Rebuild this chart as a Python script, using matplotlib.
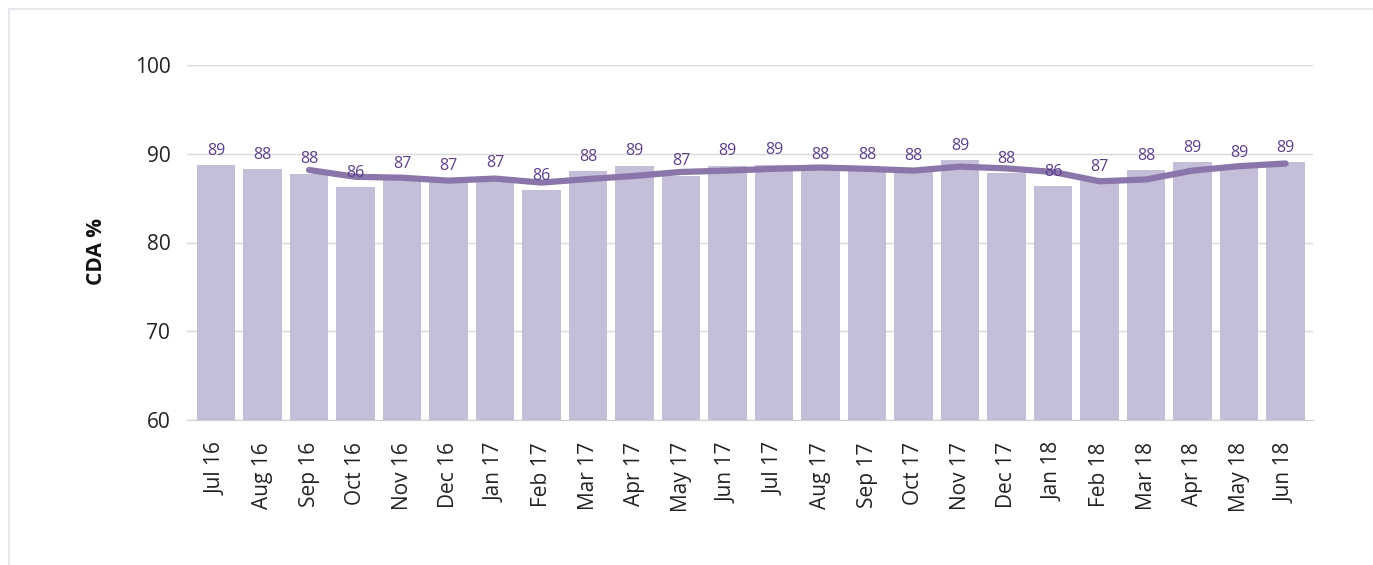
import matplotlib
matplotlib.use("Agg")
import matplotlib.pyplot as plt
from matplotlib.patches import Rectangle

months = ["Jul 16", "Aug 16", "Sep 16", "Oct 16", "Nov 16", "Dec 16", "Jan 17", "Feb 17",
          "Mar 17", "Apr 17", "May 17", "Jun 17", "Jul 17", "Aug 17", "Sep 17", "Oct 17",
          "Nov 17", "Dec 17", "Jan 18", "Feb 18", "Mar 18", "Apr 18", "May 18", "Jun 18"]
bar_values = [88.73, 88.28, 87.76, 86.25, 87.2, 87.0, 87.3, 85.9, 88.06, 88.66, 87.53,
              88.66, 88.77, 88.3, 88.2, 88.1, 89.3, 87.8, 86.37, 86.9, 88.17, 89.07,
              88.5, 89.07]
bar_labels = [89, 88, 88, 86, 87, 87, 87, 86, 88, 89, 87, 89, 89, 88, 88, 88, 89, 88,
              86, 87, 88, 89, 89, 89]
# trend line starts at Sep 16
line_values = [None, None, 88.17, 87.4, 87.3, 86.97, 87.2, 86.75, 87.15, 87.5, 87.95,
               88.1, 88.3, 88.45, 88.3, 88.1, 88.55, 88.35, 87.95, 86.9, 87.1, 88.1,
               88.6, 88.9]

plt.rcParams['font.family'] = ['Open Sans', 'DejaVu Sans']

fig = plt.figure(figsize=(13.73, 5.65), dpi=100)
ax = fig.add_axes([187 / 1373, 1 - 420 / 565, (1313 - 187) / 1373, (420 - 65) / 565])

n = len(bar_values)
xs = list(range(n))
ax.bar(xs, bar_values, width=0.82, color="#c5bed8", zorder=2)
lx = [i for i, v in enumerate(line_values) if v is not None]
ly = [v for v in line_values if v is not None]
ax.plot(lx, ly, color="#8a76aa", lw=4.5, solid_capstyle="round", solid_joinstyle="round", zorder=3)

for i, (v, lab) in enumerate(zip(bar_values, bar_labels)):
    ax.annotate(str(lab), (i, v), xytext=(0, 4.5), textcoords="offset points",
                ha="center", va="bottom", fontsize=11.5, color="#5d3f8e", zorder=4)

ax.set_ylim(60, 100)
ax.set_xlim(-0.624, 23.59)
ax.set_yticks([60, 70, 80, 90, 100])
ax.yaxis.grid(True, color="#d9d9d9", lw=1, zorder=0)
ax.set_axisbelow(True)
for s in ["top", "right", "left"]:
    ax.spines[s].set_visible(False)
ax.spines["bottom"].set_color("#d0d0d0")
ax.spines["bottom"].set_zorder(1)
ax.tick_params(axis="y", length=0, pad=12, labelsize=15, labelcolor="#222222")
ax.tick_params(axis="x", length=0, pad=16, labelsize=15, labelcolor="#222222")
ax.set_xticks(xs)
ax.set_xticklabels(months, rotation=90)
ax.set_ylabel("CDA %", fontsize=15, fontweight="bold", color="#111111")
ax.yaxis.set_label_coords(-0.071, 0.476)

fig.patches.append(Rectangle((9 / 1373, -0.1), 1.2, 1 - 9 / 565 + 0.1, transform=fig.transFigure,
                             fill=False, edgecolor="#e3e1ea", lw=1.2))

fig.savefig("out.png", dpi=100)
